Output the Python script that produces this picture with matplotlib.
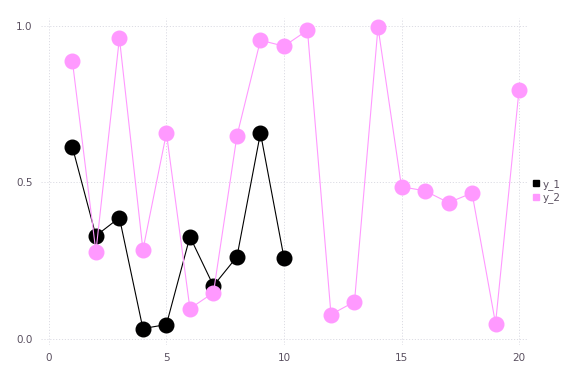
import matplotlib
matplotlib.use('Agg')
import matplotlib.pyplot as plt

x1 = list(range(1, 11))
y_1 = [0.613, 0.329, 0.387, 0.032, 0.045, 0.326, 0.169, 0.262, 0.658, 0.259]
x2 = list(range(1, 21))
y_2 = [0.888, 0.278, 0.962, 0.284, 0.658, 0.096, 0.147, 0.649, 0.955, 0.936,
       0.987, 0.077, 0.118, 0.997, 0.486, 0.473, 0.435, 0.466, 0.048, 0.796]
xticks = [0, 5, 10, 15, 20]
yticks = [0.0, 0.5, 1.0]
labels = ['y_1', 'y_2']

fig = plt.figure(figsize=(5.76, 3.84), dpi=100)
ax = fig.add_axes([0.071, 0.102, 0.844, 0.851])

ax.plot(x1, y_1, color='black', lw=0.8, marker='o', ms=10.5, mec='black', label=labels[0])
ax.plot(x2, y_2, color='#ff99ff', lw=0.8, marker='o', ms=10.5, mec='#ff99ff', label=labels[1])

ax.set_xlim(-0.34, 20.34)
ax.set_ylim(-0.02, 1.026)
ax.set_xticks(xticks)
ax.set_yticks(yticks)
ax.set_yticklabels(['0.0', '0.5', '1.0'])
ax.grid(True, color='#dcdce4', ls=(0, (1.2, 1.8)), lw=0.7)
for s in ax.spines.values():
	s.set_visible(False)
ax.tick_params(length=0, labelsize=7.5, colors='#5a5060', pad=6)

leg = ax.legend(loc='center left', bbox_to_anchor=(1.0, 0.47), frameon=False, fontsize=7.5,
                handlelength=0.6, handletextpad=0.3, labelspacing=0.25, borderaxespad=0.2,
                labelcolor='#5a5060')
for h in leg.legend_handles:
	h.set_marker('s')
	h.set_markersize(5)
	h.set_linestyle('none')

fig.savefig('out.png')
